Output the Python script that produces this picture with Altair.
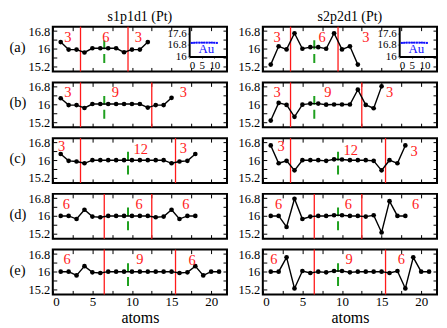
import altair as alt
import pandas as pd

FONT = "Liberation Serif"
W, H = 175, 45

col_titles = ["s1p1d1 (Pt)", "s2p2d1 (Pt)"]
row_labels = ["(a)", "(b)", "(c)", "(d)", "(e)"]

# y values (per atom) for each row, left column (s1p1d1) and right column (s2p2d1)
a_s1 = [16.30, 15.96, 15.96, 15.83, 16.02, 16.02, 16.02, 16.02, 15.84, 15.96, 15.96, 16.30]
a_s2 = [15.28, 16.11, 15.97, 16.70, 16.00, 16.07, 16.07, 16.00, 16.70, 15.97, 16.11, 15.28]
b_s1 = [16.28, 15.97, 15.97, 15.84, 16.02, 16.02, 16.02, 16.02, 16.02, 16.02, 16.02, 15.86, 15.97, 15.97, 16.30]
b_s2 = [15.27, 16.07, 15.98, 15.44, 15.99, 16.04, 16.04, 15.99, 16.00, 16.00, 16.00, 16.67, 15.98, 15.83, 16.82]
c_s1 = [16.28, 15.97, 15.94, 15.86, 16.00, 16.00, 16.00, 16.00, 16.00, 16.00, 16.00, 16.00, 16.00, 16.00, 15.86, 15.94, 15.97, 16.28]
c_s2 = [16.67, 15.86, 15.97, 15.54, 16.00, 16.00, 16.00, 15.97, 16.04, 16.03, 16.00, 16.00, 16.00, 15.97, 15.54, 16.00, 15.86, 16.67]
d_s1 = [16.00, 16.00, 15.86, 16.28, 15.97, 15.94, 16.00, 16.00, 16.00, 16.00, 16.00, 16.00, 15.94, 15.97, 16.28, 15.86, 16.00, 16.00]
d_s2 = [16.00, 16.00, 15.50, 16.78, 15.86, 15.97, 16.00, 16.00, 16.03, 16.03, 16.00, 16.00, 15.97, 16.03, 15.25, 16.67, 16.00, 16.00]
e_s1 = [16.00, 16.00, 15.83, 16.25, 15.97, 15.94, 16.00, 16.00, 16.00, 16.00, 16.00, 16.00, 16.00, 16.00, 16.00, 15.94, 15.97, 16.25, 15.83, 16.00, 16.00]
e_s2 = [16.00, 16.00, 16.65, 15.24, 16.03, 15.94, 16.00, 15.97, 16.03, 16.03, 15.97, 16.00, 16.00, 16.00, 16.00, 15.94, 16.03, 15.24, 16.65, 16.00, 16.00]
series = [[a_s1, a_s2], [b_s1, b_s2], [c_s1, c_s2], [d_s1, d_s2], [e_s1, e_s2]]

# red boundary lines and green dashed centre line per row
red_lines = [[3.5, 9.5], [3.5, 12.5], [3.5, 15.5], [6.5, 12.5], [6.5, 15.5]]
green_line = [6.5, 6.5, 9.5, 9.5, 9.5]
green_span = [15.35, 16.6]

# red region labels: (text, x, y) per row and column
labels = [
    [[("3", 1.9, 16.5), ("6", 6.7, 16.5), ("3", 10.8, 16.5)],
     [("3", 1.8, 16.5), ("6", 7.5, 16.5), ("3", 13.0, 16.47)]],
    [[("3", 1.9, 16.5), ("9", 7.9, 16.5), ("3", 16.5, 16.5)],
     [("3", 1.8, 16.5), ("9", 8.2, 16.5), ("3", 16.0, 16.5)]],
    [[("3", 1.1, 16.6), ("12", 11.1, 16.45), ("3", 16.5, 16.5)],
     [("3", 2.3, 16.6), ("12", 11.1, 16.42), ("3", 19.1, 16.38)]],
    [[("6", 1.7, 16.48), ("6", 10.9, 16.48), ("6", 16.8, 16.48)],
     [("6", 2.0, 16.5), ("6", 10.8, 16.5), ("6", 19.3, 16.5)]],
    [[("6", 1.8, 16.55), ("9", 11.0, 16.55), ("6", 17.6, 16.5)],
     [("6", 1.4, 16.55), ("9", 10.9, 16.55), ("6", 17.5, 16.55)]],
]

# inset (Au) data
au_x = [1, 2, 3, 4, 5, 6, 7, 8, 9, 10, 11]
au_y = [16.94, 16.95, 16.96, 16.96, 16.96, 16.96, 16.96, 16.96, 16.96, 16.95, 16.94]

x_ticks = [0, 5, 10, 15, 20]
x_minor = [0, 2.5, 5, 7.5, 10, 12.5, 15, 17.5, 20]
y_ticks = [15.2, 16, 16.8]
y_minor = [15.2, 15.6, 16.0, 16.4, 16.8]
inset_x_ticks = [0, 5, 10]
inset_y_ticks = [16, 16.8, 17.6]

XS = alt.Scale(domain=[0, 22], nice=False, zero=False)
YS = alt.Scale(domain=[14.97, 17.0], nice=False, zero=False)
LABEL_EXPR = "format(datum.value, '~g')"


def tick_axis(orient, values):
    return alt.Axis(orient=orient, offset=-4, tickSize=4, labels=False, domain=False,
                    values=values, grid=False, tickColor="black", tickWidth=1, title=None)


def panel(r, c):
    ys = series[r][c]
    df = pd.DataFrame({"atom": list(range(1, len(ys) + 1)), "val": ys})
    red = pd.DataFrame({"pos": red_lines[r]})
    green = pd.DataFrame({"pos": [green_line[r]], "y0": [green_span[0]], "y1": [green_span[1]]})
    lab = pd.DataFrame(labels[r][c], columns=["t", "x", "y"])

    if r == 4:
        bottom = alt.Axis(orient="bottom", values=x_ticks, ticks=False, domain=False,
                          labelPadding=1, grid=False, title="atoms", titlePadding=1,
                          labelFontSize=13, titleFontSize=16, labelExpr=LABEL_EXPR)
        red_x = alt.X("pos:Q", scale=XS, axis=bottom)
    else:
        red_x = alt.X("pos:Q", scale=XS, axis=None)

    if c == 0:
        left = alt.Axis(orient="left", values=y_ticks, ticks=False, domain=False, labelPadding=3,
                        grid=False, title=row_labels[r], titleAngle=0, titleAlign="left",
                        titleBaseline="middle", titleX=-44, titleY=H / 2 - 2, titleFontSize=14.5,
                        labelExpr=LABEL_EXPR)
    else:
        left = alt.Axis(orient="left", values=y_ticks, ticks=False, domain=False, labelPadding=3,
                        grid=False, title=None, labelExpr=LABEL_EXPR)

    layers = [
        alt.Chart(red).mark_rule(color="#ff1a1a", strokeWidth=1.3).encode(x=red_x),
        alt.Chart(green).mark_rule(color="#1fa01f", strokeWidth=2, strokeDash=[9, 5]).encode(
            x=alt.X("pos:Q", scale=XS, axis=tick_axis("bottom", x_minor)),
            y=alt.Y("y0:Q", scale=YS, axis=tick_axis("right", y_minor)),
            y2="y1:Q"),
        alt.Chart(df).mark_line(color="black", strokeWidth=1.4).encode(
            x=alt.X("atom:Q", scale=XS, axis=tick_axis("top", x_minor)),
            y=alt.Y("val:Q", scale=YS, axis=left)),
        alt.Chart(df).mark_circle(color="black", size=22, opacity=1).encode(
            x=alt.X("atom:Q", scale=XS, axis=None),
            y=alt.Y("val:Q", scale=YS, axis=tick_axis("left", y_minor))),
        alt.Chart(lab).mark_text(color="#ff2020", fontSize=14.5, font=FONT).encode(
            x=alt.X("x:Q", scale=XS, axis=None),
            y=alt.Y("y:Q", scale=YS, axis=None),
            text="t:N"),
    ]

    if r == 0:
        au = pd.DataFrame({"x": au_x, "y": au_y})
        ix0 = 137
        ib = 30
        ixs = alt.Scale(domain=[0, 15], range=[ix0, W], nice=False, zero=False)
        iys = alt.Scale(domain=[15.97, 18.1], range=[ib, 0], nice=False, zero=False)
        iax = alt.Axis(orient="bottom", offset=-(H - ib), values=inset_x_ticks, grid=False,
                       domainColor="black", domainWidth=2, tickSize=2, labelPadding=1,
                       labelFontSize=11, title=None, labelExpr=LABEL_EXPR)
        iay = alt.Axis(orient="left", offset=-ix0, values=inset_y_ticks, grid=False,
                       domainColor="black", domainWidth=2, tickSize=2, labelPadding=1,
                       labelFontSize=11, title=None, labelExpr=LABEL_EXPR)
        layers += [
            alt.Chart(au).mark_line(color="#1010ff", strokeWidth=1.2, strokeDash=[2, 1.5]).encode(
                x=alt.X("x:Q", scale=ixs, axis=iax),
                y=alt.Y("y:Q", scale=iys, axis=iay)),
            alt.Chart(au).mark_square(color="#1010ff", size=4, opacity=1).encode(
                x=alt.X("x:Q", scale=ixs, axis=None),
                y=alt.Y("y:Q", scale=iys, axis=None)),
            alt.Chart(pd.DataFrame({"t": ["Au"], "x": [6.8], "y": [16.5]})).mark_text(
                color="#1010ff", fontSize=13, font=FONT).encode(
                x=alt.X("x:Q", scale=ixs, axis=None),
                y=alt.Y("y:Q", scale=iys, axis=None),
                text="t:N"),
        ]

    ch = alt.layer(*layers).resolve_scale(x="independent", y="independent").properties(
        width=W, height=H)
    if r == 0:
        ch = ch.properties(title=alt.TitleParams(col_titles[c], fontSize=14, font=FONT,
                                                 fontWeight="normal", offset=1, frame="group"))
    return ch


panels = [panel(r, c) for r in range(5) for c in range(2)]

chart = alt.concat(*panels, columns=2, spacing={"row": 5, "column": 8}, align="each").properties(
    padding=0
).configure_view(stroke="black", strokeWidth=2).configure_axis(
    labelFont=FONT, titleFont=FONT, labelFontSize=12.5, labelColor="black",
    titleColor="black", titleFontWeight="normal"
).configure_title(font=FONT)

chart.save("out.html", embed_options={"renderer": "svg", "actions": False})
